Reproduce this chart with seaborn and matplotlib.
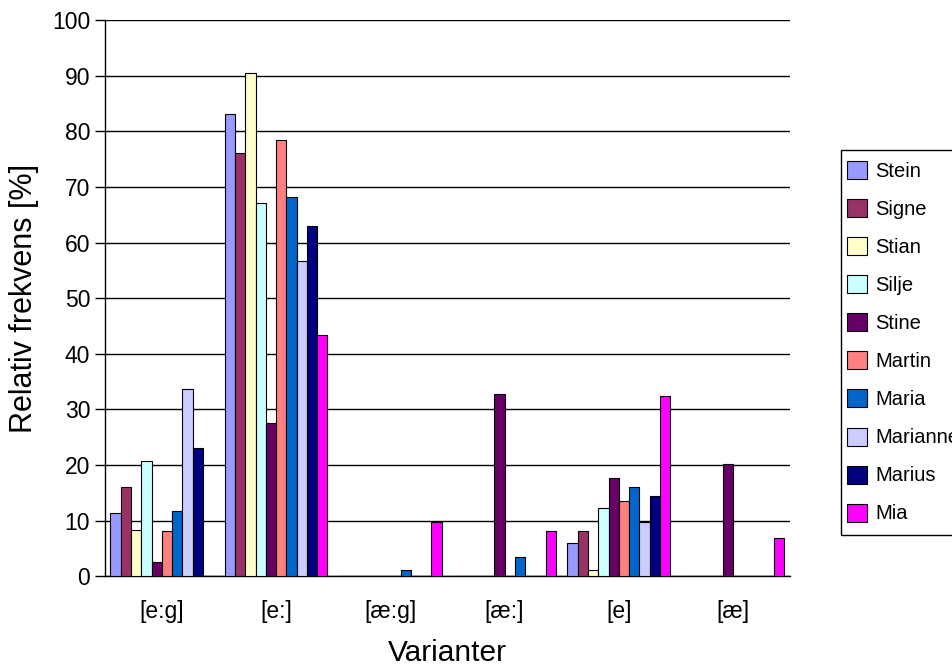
import pandas as pd
import matplotlib
matplotlib.use('Agg')
import matplotlib.pyplot as plt
from matplotlib.patches import Rectangle
import seaborn as sns

sns.set_style('white')
plt.rcParams['font.family'] = ['Liberation Sans', 'DejaVu Sans']
plt.rcParams['text.color'] = 'black'
plt.rcParams['axes.labelcolor'] = 'black'
plt.rcParams['xtick.color'] = 'black'
plt.rcParams['ytick.color'] = 'black'

varianter = ['[e:g]', '[e:]', '[æ:g]', '[æ:]', '[e]', '[æ]']
personer = ['Stein', 'Signe', 'Stian', 'Silje', 'Stine',
            'Martin', 'Maria', 'Marianne', 'Marius', 'Mia']

# relative frequencies [%] per person, in order of varianter
stein = [11.4, 83.1, 0, 0, 5.9, 0]
signe = [16.1, 76.1, 0, 0, 8.2, 0]
stian = [8.3, 90.5, 0, 0, 1.1, 0]
silje = [20.7, 67.1, 0, 0, 12.3, 0]
stine = [2.5, 27.6, 0, 32.7, 17.6, 20.2]
martin = [8.1, 78.4, 0, 0, 13.6, 0]
maria = [11.7, 68.2, 1.1, 3.4, 16.1, 0]
marianne = [33.7, 56.6, 0, 0, 9.7, 0]
marius = [23.1, 63.0, 0, 0, 14.5, 0]
mia = [0, 43.3, 9.7, 8.2, 32.4, 6.9]

farger = ['#9999ff', '#993366', '#ffffcc', '#ccffff', '#660066',
          '#ff8080', '#0066cc', '#ccccff', '#000080', '#ff00ff']

verdier = [stein, signe, stian, silje, stine, martin, maria, marianne, marius, mia]
rows = []
for navn, vals in zip(personer, verdier):
    for v, val in zip(varianter, vals):
        rows.append((v, navn, val))
df = pd.DataFrame(rows, columns=['Variant', 'Person', 'Frekvens'])

fig = plt.figure(figsize=(9.52, 6.7), dpi=100)
ax = fig.add_axes([0.110, 0.140, 0.720, 0.830])

sns.barplot(data=df, x='Variant', y='Frekvens', hue='Person', order=varianter,
            hue_order=personer, palette=dict(zip(personer, farger)),
            errorbar=None, width=0.9, edgecolor='black', linewidth=0.8,
            saturation=1, ax=ax, zorder=3)

ax.set_ylim(0, 100)
ax.set_xlim(-0.5, len(varianter) - 0.5)
ax.set_yticks(range(0, 101, 10))
ax.yaxis.grid(True, color='black', linewidth=1)
ax.set_axisbelow(True)
for s in ['top', 'right']:
    ax.spines[s].set_visible(False)
for s in ['left', 'bottom']:
    ax.spines[s].set_color('black')
    ax.spines[s].set_linewidth(1)

ax.set_xticks([i - 0.5 for i in range(len(varianter) + 1)], minor=True)
ax.tick_params(axis='x', which='major', length=0, pad=17, labelsize=16.5)
ax.tick_params(axis='x', which='minor', length=7, color='black', width=1)
ax.tick_params(axis='y', length=7, color='black', width=1, labelsize=16.5, left=True)

ax.set_xlabel('Varianter', fontsize=21.5, labelpad=12)
ax.set_ylabel('Relativ frekvens [%]', fontsize=22, labelpad=9)

ax.legend(loc='center left', bbox_to_anchor=(0.8824, 0.489),
          bbox_transform=fig.transFigure, frameon=False,
          fontsize=14.5, handlelength=1.0, handleheight=1.0,
          labelspacing=0.9, borderaxespad=0, borderpad=0.35,
          handletextpad=0.4, title=None)

# legend frame, runs past the right edge like in the original
fig.patches.append(Rectangle((841 / 952, 1 - 535 / 670), 0.2, 385 / 670,
                             transform=fig.transFigure, facecolor='none',
                             edgecolor='black', linewidth=1))

fig.savefig('out.png', dpi=100)
